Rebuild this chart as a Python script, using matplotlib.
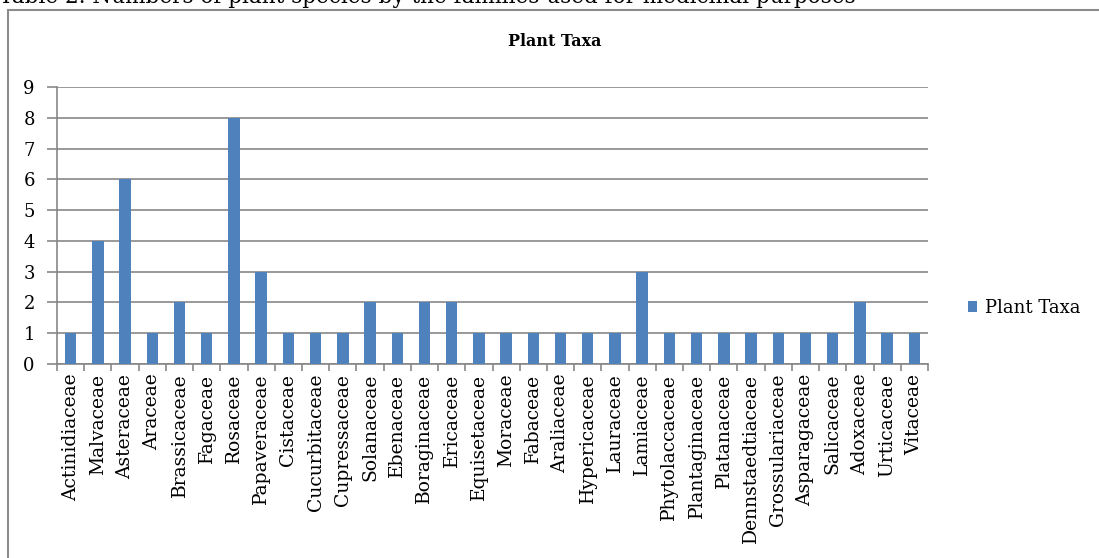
# -*- coding: utf-8 -*-
"""
Bar chart: numbers of plant species by family (medicinal use)
"""

import matplotlib
matplotlib.use("Agg")
import matplotlib.pyplot as plt
import matplotlib.patches as patches
import numpy as np

# data
families = ["Actinidiaceae", "Malvaceae", "Asteraceae", "Araceae", "Brassicaceae",
            "Fagaceae", "Rosaceae", "Papaveraceae", "Cistaceae", "Cucurbitaceae",
            "Cupressaceae", "Solanaceae", "Ebenaceae", "Boraginaceae", "Ericaceae",
            "Equisetaceae", "Moraceae", "Fabaceae", "Araliaceae", "Hypericaceae",
            "Lauraceae", "Lamiaceae", "Phytolaccaceae", "Plantaginaceae", "Platanaceae",
            "Dennstaedtiaceae", "Grossulariaceae", "Asparagaceae", "Salicaceae",
            "Adoxaceae", "Urticaceae", "Vitaceae"]
counts = [1, 4, 6, 1, 2, 1, 8, 3, 1, 1, 1, 2, 1, 2, 2, 1, 1, 1, 1, 1, 1, 3,
          1, 1, 1, 1, 1, 1, 1, 2, 1, 1]
yticks = list(range(0, 10))

series_name = "Plant Taxa"
caption = "Table 2. Numbers of plant species by the families used for medicinal purposes"

plt.rcParams['font.family'] = ['DejaVu Serif']
grey = "#878787"
blue = "#4F81BD"

W, H = 1099, 558
fig = plt.figure(figsize=(W / 100, H / 100), dpi=100)
ax = fig.add_axes([57 / W, 1 - 364 / H, (928 - 57) / W, (364 - 87) / H])

x = np.arange(len(families))
ax.bar(x, counts, width=0.42, color=blue, label=series_name, zorder=3)

ax.set_xlim(-0.5, len(families) - 0.5)
ax.set_ylim(0, 9)
ax.set_yticks(yticks)
ax.set_xticks(x)
ax.set_xticklabels(families, rotation=90, fontsize=13.5)
ax.set_xticks(np.arange(-0.5, len(families)), minor=True)
ax.tick_params(axis='x', which='major', length=0, pad=7)
ax.tick_params(axis='x', which='minor', length=5, width=1.2, color=grey)
ax.tick_params(axis='y', length=7, width=1.2, color=grey, labelsize=13, pad=9)

ax.yaxis.grid(True, color=grey, linewidth=1.2, zorder=0)
for side in ['top', 'right']:
    ax.spines[side].set_visible(False)
for side in ['left', 'bottom']:
    ax.spines[side].set_color(grey)
    ax.spines[side].set_linewidth(1.2)

# chart title and clipped caption above the frame
fig.text(555 / W, 1 - 42 / H, series_name, ha='center', va='center',
         fontsize=11.5, fontweight='bold')
fig.text(-1 / W, 1 - 3 / H, caption, ha='left', va='baseline', fontsize=15.5)

# outer chart frame
frame = patches.Rectangle((8 / W, -0.1), 1.2, 1.1 - 10 / H, transform=fig.transFigure,
                          fill=False, edgecolor="#8c8c8c", linewidth=1.5, clip_on=False)
fig.patches.append(frame)

leg = ax.legend(loc='center left', bbox_to_anchor=(968 / W, 1 - 308 / H),
                bbox_transform=fig.transFigure, frameon=False, fontsize=13,
                handlelength=0.5, handleheight=0.5, handletextpad=0.45,
                borderaxespad=0, borderpad=0)

fig.savefig("out.png", dpi=100)
